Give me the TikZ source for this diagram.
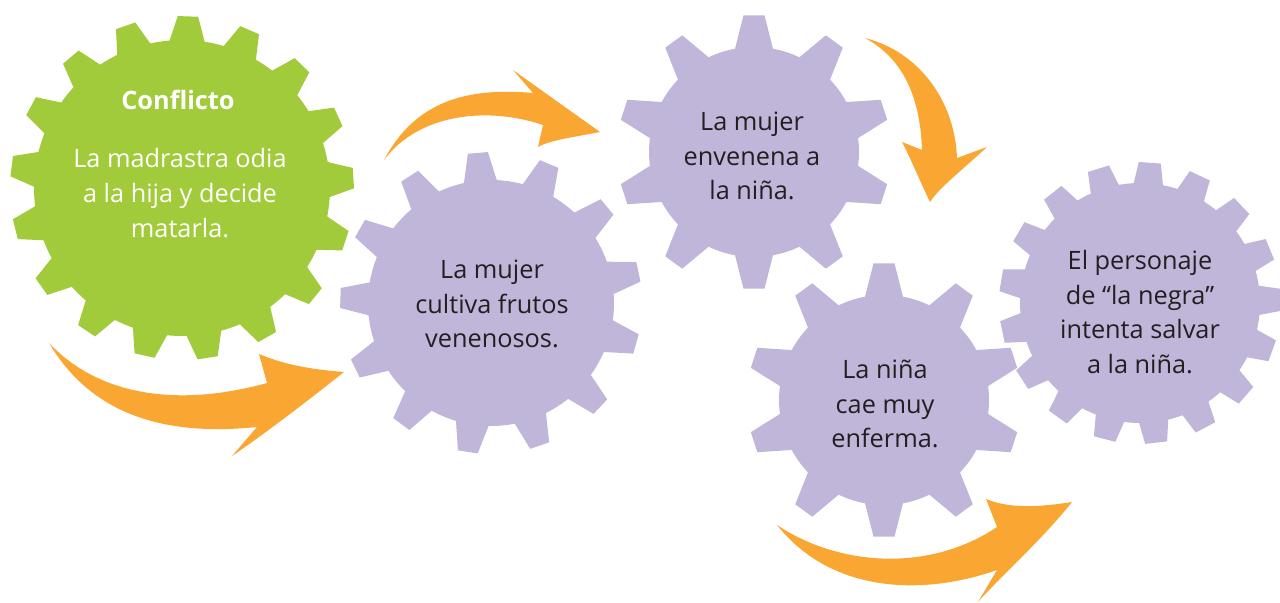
\documentclass[tikz,border=0pt]{standalone}
\usepackage{fontspec}
\setmainfont{Open Sans}
\usepackage{xcolor}
\usepackage{tikz}
\usetikzlibrary{positioning}

\definecolor{leafgreen}{RGB}{161,203,58}
\definecolor{lilac}{RGB}{191,182,217}
\definecolor{amber}{RGB}{249,166,51}
\definecolor{inkgray}{RGB}{35,31,32}

% #1 centre, #2 teeth, #3 root radius, #4 tip radius, #5 half base angle, #6 half tip angle, #7 turn, #8 colour
\newcommand{\gearshape}[8]{%
  \fill[#8, shift={#1}] (#7-#5:#3)
    \foreach \k [evaluate=\k as \a using #7+(\k-1)*360/#2] in {1,...,#2}{
      -- (\a-#5:#3) -- (\a-#6:#4) -- (\a+#6:#4) -- (\a+#5:#3)
      arc[start angle=\a+#5, end angle=\a+360/#2-#5, radius=#3]
    } -- cycle;
}

\begin{document}
\begin{tikzpicture}[
    x=0.02cm, y=0.02cm,
    geartext/.style={align=center, text=inkgray, font=\fontsize{14.4}{19.8}\selectfont},
    titletext/.style={align=center, text=white, font=\fontsize{14.4}{19.8}\selectfont\bfseries},
    bodytext/.style={align=center, text=white, font=\fontsize{14.4}{19.8}\selectfont},
    flow/.style={fill=amber}
]
    \useasboundingbox (0,0) rectangle (1280,602);

    % Gears
    \gearshape{(182,414)}{17}{148}{172}{6.8}{3.4}{88}{leafgreen}
    \gearshape{(491,299)}{13}{123}{151}{7.7}{3.8}{95}{lilac}
    \gearshape{(754,450)}{10}{105}{137}{10.4}{4.4}{90}{lilac}
    \gearshape{(884,202)}{10}{105}{137}{10.4}{4.4}{90}{lilac}
    \gearshape{(1140,299)}{17}{120}{141}{7}{4.5}{86}{lilac}

    % Arrows
    \fill[flow] (49,259) .. controls (100,205) and (180,195) .. (267,219)
        -- (259,248) .. controls (290,235) and (320,232) .. (344,230)
        .. controls (300,195) and (260,165) .. (232,146)
        -- (257,175) .. controls (160,165) and (90,190) .. (49,259) -- cycle;
    \fill[flow] (384,442) .. controls (415,500) and (465,515) .. (533,509)
        -- (513,532) -- (600,470)
        .. controls (575,465) and (550,462) .. (538,455)
        -- (543,477) .. controls (490,495) and (420,490) .. (384,442) -- cycle;
    \fill[flow] (865,564) .. controls (920,550) and (955,500) .. (957,444)
        -- (987,455) .. controls (960,430) and (940,415) .. (930,400)
        .. controls (918,425) and (910,445) .. (902,460)
        -- (922,452) .. controls (920,510) and (900,545) .. (865,564) -- cycle;
    \fill[flow] (777,77) .. controls (840,35) and (930,30) .. (997,75)
        -- (986,103) .. controls (1010,93) and (1040,95) .. (1072,100)
        .. controls (1040,60) and (1000,25) .. (978,0)
        -- (997,32) .. controls (920,5) and (830,10) .. (777,77) -- cycle;

    % Texts
    \node[titletext] (conflicto) at (178,502) {Conflicto};
    \node[bodytext] (madrastra) at (180,409) {La madrastra odia\\a la hija y decide\\matarla.};
    \node[geartext] (cultiva) at (492,298) {La mujer\\cultiva frutos\\venenosos.};
    \node[geartext] (envenena) at (752,446) {La mujer\\envenena a\\la niña.};
    \node[geartext] (enferma) at (885,198) {La niña\\cae muy\\enferma.};
    \node[geartext] (salvar) at (1140,290) {El personaje\\de “la negra”\\intenta salvar\\a la niña.};
\end{tikzpicture}
\end{document}
